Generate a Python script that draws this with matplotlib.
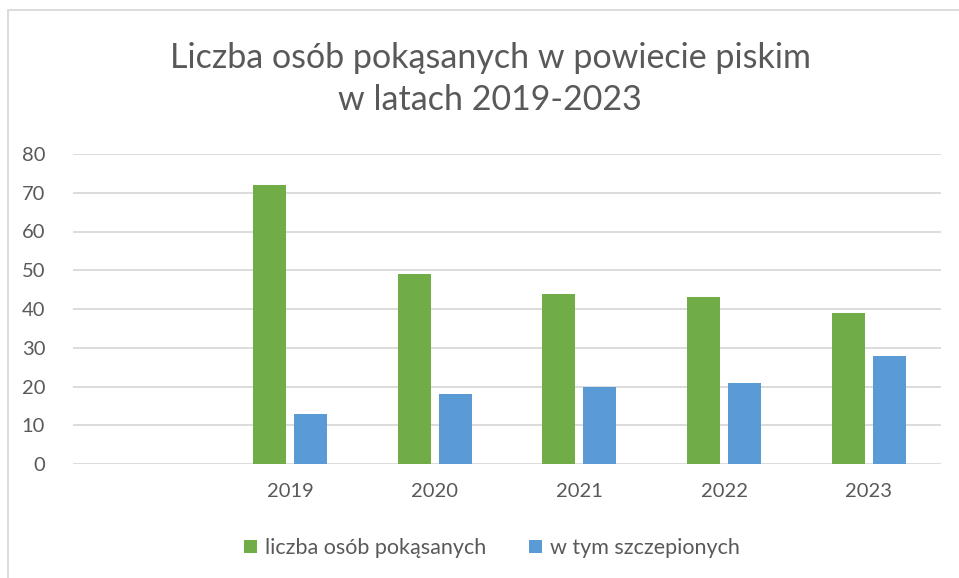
import matplotlib.pyplot as plt
import matplotlib.patches as mpatches
import numpy as np

# categories (first slot is empty in the original sheet)
categories = ["", "2019", "2020", "2021", "2022", "2023"]
bitten = [None, 72, 49, 44, 43, 39]
vaccinated = [None, 13, 18, 20, 21, 28]
series_names = ["liczba osób pokąsanych", "w tym szczepionych"]

green = "#70AD47"
blue = "#5B9BD5"
txt = "#595959"
gridc = "#D9D9D9"

plt.rcParams['font.family'] = ['Lato', 'DejaVu Sans']

fig = plt.figure(figsize=(9.59, 5.78), dpi=100)
ax = fig.add_axes([73/959, 1-464/578, 868/959, 310/578])

x = np.arange(len(categories))
b = np.array([np.nan if v is None else v for v in bitten], dtype=float)
v = np.array([np.nan if v is None else v for v in vaccinated], dtype=float)
w = 0.228
off = 0.1417
ax.bar(x - off, b, w, color=green, label=series_names[0], zorder=3)
ax.bar(x + off, v, w, color=blue, label=series_names[1], zorder=3)

ax.set_xlim(-0.5, len(categories) - 0.5)
ax.set_ylim(0, 80)
ax.set_yticks(range(0, 81, 10))
ax.set_xticks(x)
ax.set_xticklabels(categories)
ax.yaxis.grid(True, color=gridc, linewidth=1.3, zorder=0)
for s in ax.spines.values():
    s.set_visible(False)
ax.tick_params(axis='both', length=0, labelsize=14.5, labelcolor=txt)
ax.tick_params(axis='y', pad=20)
ax.tick_params(axis='x', pad=14)

fig.text(490/959, 1-79/578, "Liczba osób pokąsanych w powiecie piskim\nw latach 2019-2023",
         ha='center', va='center', fontsize=24.5, color=txt, linespacing=1.4)

fig.legend(loc='center', bbox_to_anchor=(492/959, 1-548/578), ncol=2, frameon=False,
           fontsize=15.5, labelcolor=txt, handlelength=0.6, handleheight=0.6,
           handletextpad=0.35, columnspacing=2.0)

# chart border (extends beyond the crop on right and bottom)
fig.patches.append(mpatches.Rectangle((8/959, -0.1), 1.2, 1.1 - 10/578,
                                      transform=fig.transFigure, fill=False,
                                      edgecolor=gridc, linewidth=1.3))

fig.savefig("out.png", dpi=100)
